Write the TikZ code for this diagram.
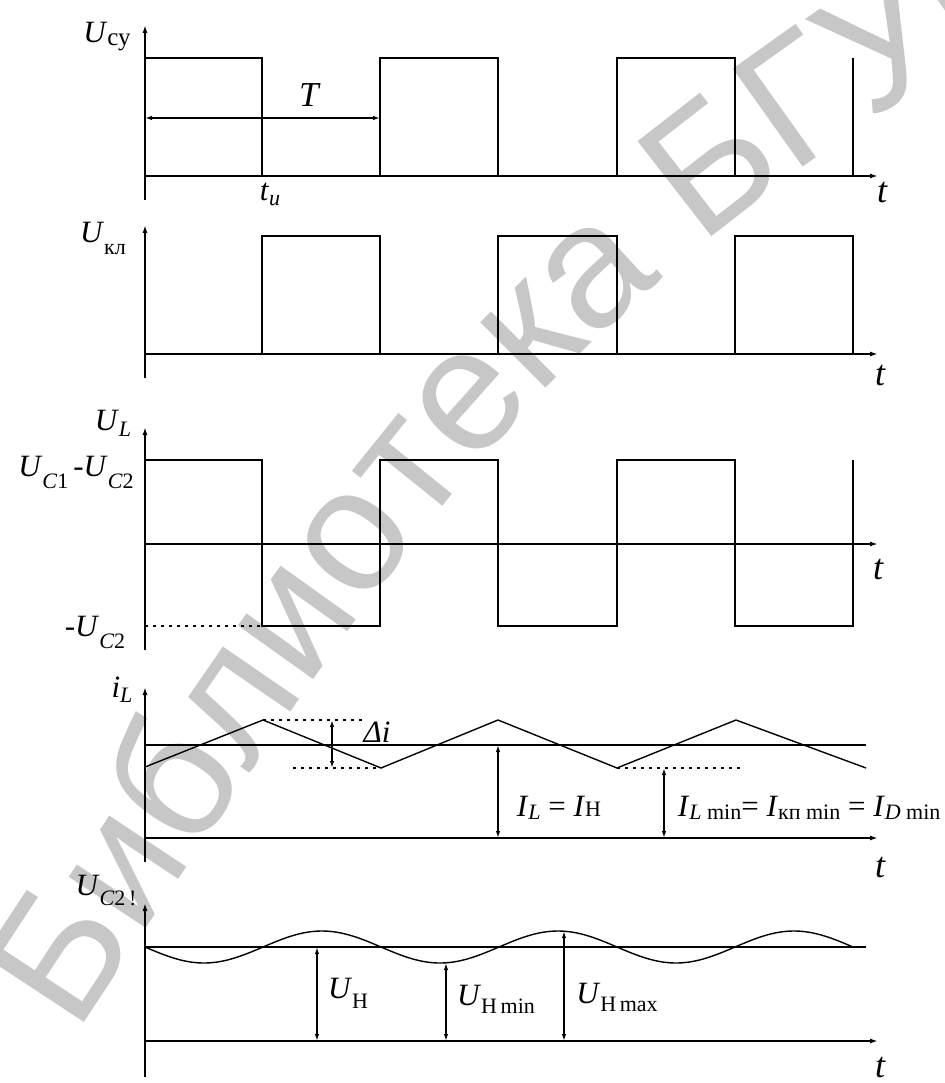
\documentclass[tikz,border=0pt]{standalone}
\usepackage{fontspec}
\setmainfont{Liberation Serif}
\newfontfamily\wmfont{Liberation Sans}
\usetikzlibrary{arrows.meta,decorations.text}
\newcommand{\V}[1]{\textit{#1}}
\newcommand{\sbs}[2][8pt]{\raisebox{-#1}{\fontsize{22}{22}\selectfont #2}}
\newcommand{\wmstyle}{\fontsize{175}{175}\wmfont\color{black!22}}
\begin{document}
\begin{tikzpicture}[x=1pt,y=-1pt,line width=1.7pt,
  axis/.style={-{Latex[length=8pt,width=5pt]}},
  dim/.style={{Latex[length=7pt,width=4.5pt]}-{Latex[length=7pt,width=4.5pt]}},
  lbl/.style={font=\fontsize{31}{31}\selectfont,inner sep=0pt},
  tlbl/.style={font=\fontsize{36}{36}\selectfont\itshape,inner sep=0pt},
  dotline/.style={line width=1.2pt,dash pattern=on 3pt off 5pt},
  wave/.style={line width=1.7pt},
  thin wave/.style={line width=1.4pt}]
\useasboundingbox (0,0) rectangle (944,1083);
% watermark
\path[decorate,decoration={text along path,text align=left,
   text={|\wmstyle|Библиотека БГУИР}}]
  (76,1034) .. controls (230,800) and (380,570) .. (513,423)
  .. controls (640,285) and (780,180) .. (910,93) -- (1250,-140);
% ---------- panel 1
\draw[axis] (145,200) -- (145,25);
\draw[axis] (145,176) -- (878,176);
\draw[wave] (145,58) -- (262,58) -- (262,176);
\draw[wave] (380,176) -- (380,58) -- (498,58) -- (498,176);
\draw[wave] (617,176) -- (617,58) -- (735,58) -- (735,176);
\draw[wave] (853,58) -- (853,176);
\coordinate (Ta) at (145,118); \coordinate (Tb) at (380,118);
\draw[dim] (Ta) -- (Tb);
\node[lbl] (Ucy) at (107,37) {\V{U}\sbs[3pt]{\fontsize{25}{25}\selectfont су}};
\node[lbl,font=\fontsize{35}{35}\selectfont] (T) at (310,95) {\V{T}};
\node[lbl] (tu) at (270,194) {\V{t}\sbs[5pt]{\V{u}}};
\node[tlbl] (t1) at (882,193) {t};
% ---------- panel 2
\draw[axis] (145,378) -- (145,225);
\draw[axis] (145,354) -- (878,354);
\draw[wave] (262,354) -- (262,236) -- (380,236) -- (380,354);
\draw[wave] (498,354) -- (498,236) -- (617,236) -- (617,354);
\draw[wave] (735,354) -- (735,236) -- (853,236) -- (853,354);
\node[lbl] (Ukl) at (103,238) {\V{U}\sbs[12pt]{кл}};
\node[tlbl] (t2) at (880,376) {t};
% ---------- panel 3
\draw[axis] (145,650) -- (145,427);
\draw[axis] (145,544) -- (878,544);
\draw[wave] (145,460) -- (262,460) -- (262,626) -- (380,626) -- (380,460) -- (498,460) -- (498,626)
  -- (617,626) -- (617,460) -- (735,460) -- (735,626) -- (853,626) -- (853,460);
\draw[dotline] (145,626) -- (262,626);
\node[lbl] (UL) at (113,423) {\V{U}\sbs[6pt]{\V{L}}};
\node[lbl] (UC12) at (76,472) {\V{U}\sbs[12pt]{\V{C}1}\,-\V{U}\sbs[12pt]{\V{C}2}};
\node[lbl] (UC2n) at (95,632) {-\V{U}\sbs[12pt]{\V{C}2}};
\node[tlbl] (t3) at (878,570) {t};
% ---------- panel 4
\draw[axis] (145,862) -- (145,687);
\draw[axis] (145,838) -- (878,838);
\draw[wave] (145,745) -- (866,745);
\draw[thin wave] (145,767) -- (263,720) -- (381,768) -- (498,720) -- (617,768) -- (736,720) -- (866,768);
\draw[dotline] (263,720) -- (362,720);
\draw[dotline] (293,768) -- (381,768);
\draw[dotline] (617,768) -- (740,768);
\coordinate (da) at (332,720); \coordinate (db) at (332,768);
\draw[dim,line width=1.4pt] (da) -- (db);
\coordinate (ia) at (498,745); \coordinate (ib) at (498,838);
\draw[dim] (ia) -- (ib);
\coordinate (ma) at (664,768); \coordinate (mb) at (664,838);
\draw[dim] (ma) -- (mb);
\node[lbl] (iL) at (122,690) {\V{i}\sbs[5pt]{\V{L}}};
\node[lbl] (di) at (377,732) {\V{Δi}};
\node[lbl] (ILIH) at (559,808) {\V{I}\sbs[3pt]{\V{L}} = \V{I}\sbs[0pt]{Н}};
\node[lbl,anchor=west] (ILmin) at (677,808) {\V{I}\sbs[3pt]{\V{L} min}= \V{I}\sbs[3pt]{кп min} = \V{I}\sbs[3pt]{\V{D} min}};
\node[tlbl] (t4) at (880,868) {t};
% ---------- panel 5
\draw[axis] (145,1077) -- (145,903);
\draw[axis] (145,1041) -- (878,1041);
\draw[wave] (145,947) -- (866,947);
\draw[thin wave] plot[domain=145:853,samples=200,smooth] (\x,{947+16*sin((\x-145)/236*360)});
\coordinate (ua) at (317,947); \coordinate (ub) at (317,1041);
\draw[dim] (ua) -- (ub);
\coordinate (uma) at (446,963); \coordinate (umb) at (446,1041);
\draw[dim] (uma) -- (umb);
\coordinate (uxa) at (564,931); \coordinate (uxb) at (564,1041);
\draw[dim] (uxa) -- (uxb);
\node[lbl] (UC2) at (106,890) {\V{U}\sbs[10pt]{\V{C}2\,!}};
\node[lbl] (UH) at (348,993) {\V{U}\sbs[10pt]{Н}};
\node[lbl] (UHmin) at (496,999) {\V{U}\sbs[8pt]{Н\,min}};
\node[lbl] (UHmax) at (617,997) {\V{U}\sbs[8pt]{Н\,max}};
\node[tlbl] (t5) at (880,1068) {t};
\end{tikzpicture}
\end{document}
